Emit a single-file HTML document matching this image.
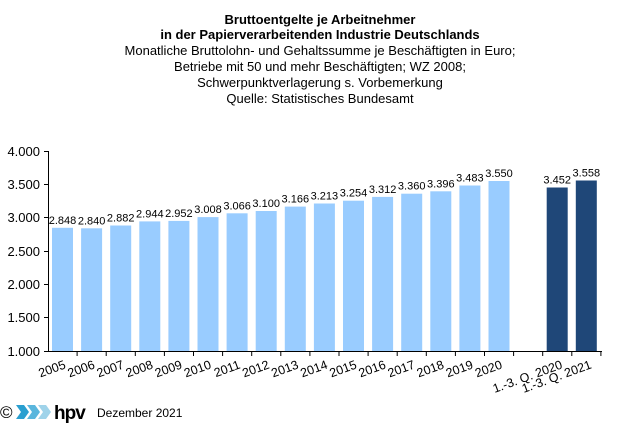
<!DOCTYPE html>
<html><head><meta charset="utf-8"><style>
body{margin:0;background:#fff;}
svg text{font-family:"Liberation Sans",Arial,sans-serif;}
</style></head><body>
<svg width="621" height="442" viewBox="0 0 621 442" xmlns="http://www.w3.org/2000/svg">
<g text-anchor="middle" font-size="13" fill="#000">
<text x="320" y="24" font-weight="bold">Bruttoentgelte  je Arbeitnehmer</text>
<text x="320" y="39" font-weight="bold">in der Papierverarbeitenden Industrie Deutschlands</text>
<text x="320" y="55">Monatliche Bruttolohn- und Gehaltssumme je Beschäftigten  in Euro;</text>
<text x="320" y="71">Betriebe mit 50 und mehr Beschäftigten; WZ 2008;</text>
<text x="320" y="87">Schwerpunktverlagerung  s. Vorbemerkung</text>
<text x="320" y="103">Quelle: Statistisches Bundesamt</text>
</g>
<g font-size="13" text-anchor="end">
<text x="40" y="156">4.000</text>
<text x="40" y="189">3.500</text>
<text x="40" y="222">3.000</text>
<text x="40" y="256">2.500</text>
<text x="40" y="289">2.000</text>
<text x="40" y="322">1.500</text>
<text x="40" y="356">1.000</text>
</g>
<g fill="#99ccff">
<rect x="52" y="227.8" width="21" height="123.2"/>
<rect x="81.1" y="228.3" width="21" height="122.7"/>
<rect x="110.2" y="225.5" width="21" height="125.5"/>
<rect x="139.3" y="221.4" width="21" height="129.6"/>
<rect x="168.4" y="220.9" width="21" height="130.1"/>
<rect x="197.5" y="217.1" width="21" height="133.9"/>
<rect x="226.6" y="213.3" width="21" height="137.7"/>
<rect x="255.7" y="211" width="21" height="140"/>
<rect x="284.8" y="206.6" width="21" height="144.4"/>
<rect x="313.9" y="203.5" width="21" height="147.5"/>
<rect x="343" y="200.7" width="21" height="150.3"/>
<rect x="372.1" y="196.9" width="21" height="154.1"/>
<rect x="401.2" y="193.7" width="21" height="157.3"/>
<rect x="430.3" y="191.3" width="21" height="159.7"/>
<rect x="459.4" y="185.5" width="21" height="165.5"/>
<rect x="488.5" y="181" width="21" height="170"/>
</g>
<g fill="#1f4778">
<rect x="546.7" y="187.5" width="21" height="163.5"/>
<rect x="575.8" y="180.5" width="21" height="170.5"/>
</g>
<g stroke="#000" stroke-width="1" fill="none">
<line x1="48.5" y1="151" x2="48.5" y2="351"/>
<line x1="48" y1="351.5" x2="602" y2="351.5"/>
<line x1="44" y1="151.5" x2="48" y2="151.5"/>
<line x1="44" y1="184.5" x2="48" y2="184.5"/>
<line x1="44" y1="217.5" x2="48" y2="217.5"/>
<line x1="44" y1="251.5" x2="48" y2="251.5"/>
<line x1="44" y1="284.5" x2="48" y2="284.5"/>
<line x1="44" y1="317.5" x2="48" y2="317.5"/>
<line x1="44" y1="351.5" x2="48" y2="351.5"/>
<path d="M77.1 351v5M106.2 351v5M135.3 351v5M164.4 351v5M193.5 351v5M222.6 351v5M251.7 351v5M280.8 351v5M309.9 351v5M339 351v5M368.1 351v5M397.2 351v5M426.3 351v5M455.4 351v5M484.5 351v5M513.6 351v5M542.7 351v5M571.8 351v5M600.9 351v5"/>
</g>
<g font-size="11" text-anchor="middle">
<text x="62.5" y="223.8">2.848</text>
<text x="91.6" y="224.3">2.840</text>
<text x="120.7" y="221.5">2.882</text>
<text x="149.8" y="217.4">2.944</text>
<text x="178.9" y="216.9">2.952</text>
<text x="208" y="213.1">3.008</text>
<text x="237.1" y="209.3">3.066</text>
<text x="266.2" y="207">3.100</text>
<text x="295.3" y="202.6">3.166</text>
<text x="324.4" y="199.5">3.213</text>
<text x="353.5" y="196.7">3.254</text>
<text x="382.6" y="192.9">3.312</text>
<text x="411.7" y="189.7">3.360</text>
<text x="440.8" y="187.3">3.396</text>
<text x="469.9" y="181.5">3.483</text>
<text x="499" y="177">3.550</text>
<text x="557.2" y="183.5">3.452</text>
<text x="586.3" y="176.5">3.558</text>
</g>
<g font-size="12.5" text-anchor="end">
<text transform="translate(66.5,368) rotate(-20)">2005</text>
<text transform="translate(95.6,368) rotate(-20)">2006</text>
<text transform="translate(124.7,368) rotate(-20)">2007</text>
<text transform="translate(153.8,368) rotate(-20)">2008</text>
<text transform="translate(182.9,368) rotate(-20)">2009</text>
<text transform="translate(212,368) rotate(-20)">2010</text>
<text transform="translate(241.1,368) rotate(-20)">2011</text>
<text transform="translate(270.2,368) rotate(-20)">2012</text>
<text transform="translate(299.3,368) rotate(-20)">2013</text>
<text transform="translate(328.4,368) rotate(-20)">2014</text>
<text transform="translate(357.5,368) rotate(-20)">2015</text>
<text transform="translate(386.6,368) rotate(-20)">2016</text>
<text transform="translate(415.7,368) rotate(-20)">2017</text>
<text transform="translate(444.8,368) rotate(-20)">2018</text>
<text transform="translate(473.9,368) rotate(-20)">2019</text>
<text transform="translate(503,368) rotate(-20)">2020</text>
<text transform="translate(563.2,368) rotate(-20)">1.-3. Q. 2020</text>
<text transform="translate(592.3,368) rotate(-20)">1.-3. Q. 2021</text>
</g>
<g font-size="12">
<text x="0" y="418" font-size="17">©</text>
<polygon points="16,405 24,405 29,412 24,419 16,419 21,412" fill="#2a9fd0"/>
<polygon points="27,405 35,405 40,412 35,419 27,419 32,412" fill="#5ab6dd"/>
<polygon points="38,405 46,405 51,412 46,419 38,419 43,412" fill="#9fd3ea"/>
<text x="54" y="419" font-size="19" font-weight="bold" letter-spacing="-1">hpv</text>
<text x="97" y="417">Dezember 2021</text>
</g>
</svg>
</body></html>
